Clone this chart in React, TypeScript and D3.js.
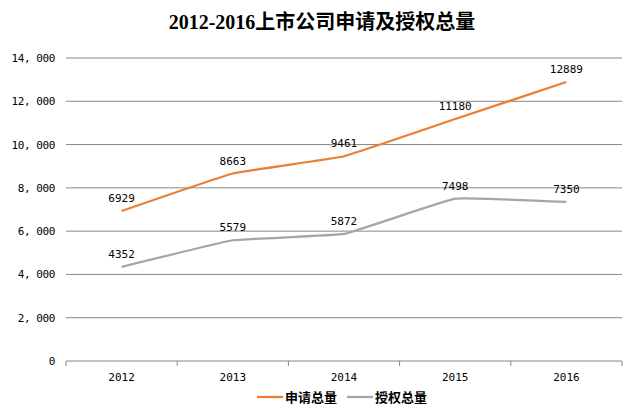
import React from "react";
import * as d3 from "d3";

const years = ["2012", "2013", "2014", "2015", "2016"];
const applied = [6929, 8663, 9461, 11180, 12889];
const granted = [4352, 5579, 5872, 7498, 7350];
const yTicks = [0, 2000, 4000, 6000, 8000, 10000, 12000, 14000];
const seriesNames = ["申请总量", "授权总量"];
const colors = ["#ED7D31", "#A5A5A5"];
const title = "2012-2016上市公司申请及授权总量";

const W = 640, H = 417;
const M = { left: 66, right: 622, top: 58, bottom: 361 };
const monoFont = "'DejaVu Sans Mono', 'Liberation Mono', monospace";
const cjkFont = "'Liberation Serif', 'Noto Sans CJK SC', serif";

export default function App() {
  const x = d3.scaleBand().domain(years).range([M.left, M.right]);
  const y = d3.scaleLinear().domain([0, 14000]).range([M.bottom, M.top]);
  const fmt = (t: number) => d3.format(",")(t).replace(",", ", ");
  const line = d3
    .line<number>()
    .x((_, i) => (x(years[i]) as number) + x.bandwidth() / 2)
    .y((d) => y(d))
    .curve(d3.curveCardinal.tension(0.75));
  const series = [applied, granted];
  const tickEdges = [...years.map((yr) => x(yr) as number), M.right];

  return (
    <svg width={W} height={H} style={{ position: "absolute", left: 0, top: 0 }}>
      <rect width={W} height={H} fill="#fff" />
      <text x={322} y={29} textAnchor="middle" fontFamily={cjkFont} fontWeight="bold" fontSize={20} fill="#000">
        {title}
      </text>
      {yTicks.map((t) => (
        <g key={t}>
          <line x1={M.left} x2={M.right} y1={y(t)} y2={y(t)} stroke="#878787" strokeWidth={1} />
          <text x={55} y={y(t) + 4} textAnchor="end" fontFamily={monoFont} fontSize={11} fill="#000" letterSpacing={-0.4}>
            {fmt(t)}
          </text>
        </g>
      ))}
      {tickEdges.map((e, i) => (
        <line key={i} x1={e} x2={e} y1={M.bottom} y2={M.bottom + 5} stroke="#878787" strokeWidth={1} />
      ))}
      {years.map((yr) => (
        <text key={yr} x={(x(yr) as number) + x.bandwidth() / 2} y={381} textAnchor="middle" fontFamily={monoFont} fontSize={11} fill="#000">
          {yr}
        </text>
      ))}
      {series.map((s, si) => (
        <g key={si}>
          <path d={line(s) || ""} fill="none" stroke={colors[si]} strokeWidth={2.25} />
          {s.map((v, i) => (
            <text key={i} x={(x(years[i]) as number) + x.bandwidth() / 2} y={y(v) - 9} textAnchor="middle" fontFamily={monoFont} fontSize={11} fill="#000">
              {v}
            </text>
          ))}
        </g>
      ))}
      {seriesNames.map((n, i) => {
        const lx = 257 + i * 90;
        return (
          <g key={n}>
            <line x1={lx} x2={lx + 26} y1={397} y2={397} stroke={colors[i]} strokeWidth={2.25} />
            <text x={lx + 28} y={402} fontFamily="'Noto Sans CJK SC', sans-serif" fontWeight="bold" fontSize={13} fill="#000">
              {n}
            </text>
          </g>
        );
      })}
    </svg>
  );
}
